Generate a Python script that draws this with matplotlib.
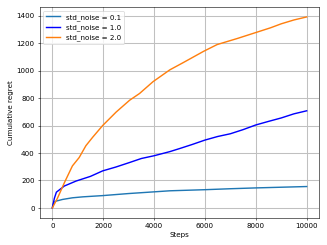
import matplotlib
matplotlib.use("Agg")
import matplotlib.pyplot as plt

steps_01 = [0, 30, 66, 150, 400, 790, 1200, 1980, 3000, 4620, 6000, 7000, 8000, 9000, 10000]
regret_01 = [0, 25, 42, 50, 62, 74, 81, 90, 105, 125, 133, 140, 146, 151, 156]

steps_10 = [0, 80, 160, 300, 475, 935, 1500, 1980, 2500, 3040, 3500, 4000, 4620, 5000, 5500,
            6000, 6500, 7000, 7500, 8000, 8500, 9000, 9500, 10000]
regret_10 = [0, 70, 115, 135, 160, 196, 230, 270, 298, 331, 360, 380, 410, 432, 462,
             494, 520, 540, 570, 604, 630, 655, 685, 707]

steps_20 = [0, 200, 475, 790, 1056, 1320, 1584, 1980, 2510, 3040, 3430, 3960, 4620,
            5160, 5950, 6480, 7270, 8060, 8580, 9000, 9500, 10000]
regret_20 = [0, 70, 184, 306, 367, 453, 514, 600, 698, 784, 833, 919, 1005,
             1059, 1140, 1189, 1233, 1280, 1311, 1340, 1368, 1390]

fig, ax = plt.subplots(figsize=(6.4, 4.8), dpi=51.1)
ax.plot(steps_01, regret_01, color="tab:blue", linewidth=2, label="std_noise = 0.1")
ax.plot(steps_10, regret_10, color="blue", linewidth=2, label="std_noise = 1.0")
ax.plot(steps_20, regret_20, color="tab:orange", linewidth=2, label="std_noise = 2.0")
ax.set_xlabel("Steps")
ax.set_ylabel("Cumulative regret")
ax.grid(True, color="#c0c0c0", linewidth=1.5)
ax.legend(loc="upper left")
fig.tight_layout()
fig.savefig("out.png", dpi=51.1)
